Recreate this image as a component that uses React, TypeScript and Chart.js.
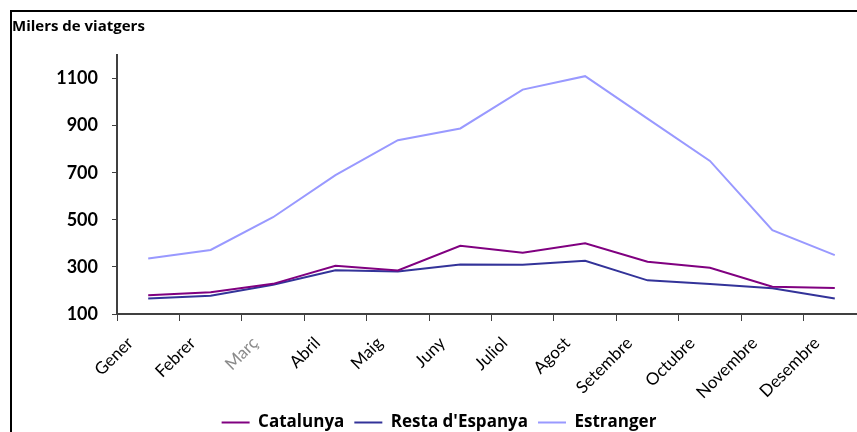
import React, { useEffect, useRef } from "react";
import { Chart, registerables } from "chart.js";

Chart.register(...registerables);

// Monthly travellers (thousands) by origin
const months = [
  "Gener", "Febrer", "Març", "Abril", "Maig", "Juny",
  "Juliol", "Agost", "Setembre", "Octubre", "Novembre", "Desembre",
];
const catalunya = [180, 192, 228, 305, 285, 390, 360, 400, 322, 296, 216, 210];
const restaEspanya = [166, 178, 224, 286, 281, 310, 309, 326, 243, 227, 209, 166];
const estranger = [336, 372, 511, 690, 838, 888, 1053, 1110, 930, 750, 456, 350];
const yTicks = [100, 300, 500, 700, 900, 1100];

const AXIS_FONT = "Lato, 'Open Sans', sans-serif";
const TEXT_FONT = "'Open Sans', Lato, sans-serif";

export default function App() {
  const canvasRef = useRef<HTMLCanvasElement | null>(null);

  useEffect(() => {
    if (!canvasRef.current) return;
    const chart = new Chart(canvasRef.current, {
      type: "line",
      data: {
        labels: months,
        datasets: [
          {
            label: "Catalunya",
            data: catalunya,
            borderColor: "#800080",
            backgroundColor: "#800080",
            borderWidth: 2,
            pointRadius: 0,
            tension: 0,
          },
          {
            label: "Resta d'Espanya",
            data: restaEspanya,
            borderColor: "#333399",
            backgroundColor: "#333399",
            borderWidth: 2,
            pointRadius: 0,
            tension: 0,
          },
          {
            label: "Estranger",
            data: estranger,
            borderColor: "#9999FF",
            backgroundColor: "#9999FF",
            borderWidth: 2,
            pointRadius: 0,
            tension: 0,
          },
        ],
      },
      options: {
        animation: false,
        responsive: false,
        maintainAspectRatio: false,
        layout: { padding: { left: 0, right: 2, top: 0, bottom: 0 } },
        plugins: {
          tooltip: { enabled: false },
          title: {
            display: true,
            text: "Milers de viatgers",
            align: "start",
            color: "#000",
            font: { family: TEXT_FONT, size: 15, weight: "bold" },
            padding: { top: 6, bottom: 19 },
          },
          legend: {
            position: "bottom",
            labels: {
              usePointStyle: true,
              pointStyle: "line",
              pointStyleWidth: 28,
              color: "#000",
              font: { family: TEXT_FONT, size: 17, weight: "bold" },
              padding: 10,
            },
          },
        },
        scales: {
          x: {
            offset: true,
            grid: {
              offset: true,
              drawOnChartArea: false,
              drawTicks: true,
              tickLength: 7,
              color: "#404040",
            },
            border: { display: true, color: "#404040", width: 2 },
            ticks: {
              autoSkip: false,
              minRotation: 45,
              maxRotation: 45,
              labelOffset: -18,
              padding: 12,
              color: (ctx: any) => (ctx.index === 2 ? "#8a8a8a" : "#000"),
              font: { family: AXIS_FONT, size: 17 },
            },
            afterFit: (scale: any) => {
              scale.height = 90;
            },
          },
          y: {
            min: 100,
            max: 1200,
            afterBuildTicks: (scale: any) => {
              scale.ticks = yTicks.map((v) => ({ value: v }));
            },
            grid: {
              drawOnChartArea: false,
              drawTicks: true,
              tickLength: 5,
              color: "#404040",
            },
            border: { display: true, color: "#404040", width: 2 },
            ticks: {
              padding: 14,
              color: "#000",
              font: { family: AXIS_FONT, size: 18, weight: "bold" },
              callback: (value: any) => String(value),
            },
            afterFit: (scale: any) => {
              scale.width = 105;
            },
          },
        },
      },
    });
    return () => chart.destroy();
  }, []);

  return (
    <div
      style={{
        position: "absolute",
        left: 0,
        top: 0,
        width: 857,
        height: 432,
        overflow: "hidden",
        background: "#fff",
      }}
    >
      <div
        style={{
          position: "absolute",
          left: 10,
          top: 10,
          width: 860,
          height: 440,
          border: "2px solid #000",
        }}
      >
        <canvas ref={canvasRef} width={856} height={429} />
      </div>
    </div>
  );
}
